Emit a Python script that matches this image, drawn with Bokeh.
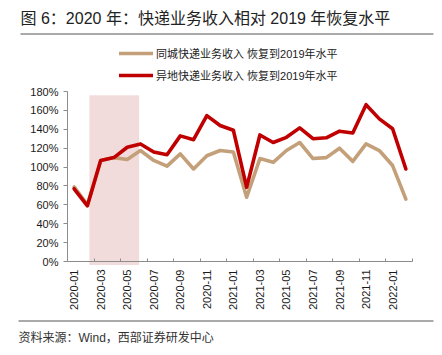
from bokeh.plotting import figure
from bokeh.models import (Legend, LegendItem, FixedTicker, PrintfTickFormatter, Range1d)
from bokeh.core.properties import value
from bokeh.embed import file_html
from bokeh.resources import INLINE
import math

months = ["2020-01", "2020-02", "2020-03", "2020-04", "2020-05", "2020-06",
          "2020-07", "2020-08", "2020-09", "2020-10", "2020-11", "2020-12",
          "2021-01", "2021-02", "2021-03", "2021-04", "2021-05", "2021-06",
          "2021-07", "2021-08", "2021-09", "2021-10", "2021-11", "2021-12",
          "2022-01", "2022-02"]
tongcheng = [79, 60, 107, 110, 108, 117.5, 107, 101, 114, 98, 112, 117.5, 116,
             68, 109, 105, 117.5, 126, 109, 110, 120, 106, 124.5, 117.5, 101.6, 66]
yidi = [77, 59, 107, 110, 121, 124.5, 116, 113, 133, 129, 154.5, 144, 139,
        78.5, 134, 126, 131.5, 141.5, 130, 131, 138, 136, 166, 151, 140.5, 98]
y_ticks = [0, 20, 40, 60, 80, 100, 120, 140, 160, 180]
shade_x0, shade_x1, shade_top = 1.15, 4.9, 176

series_names = ["同城快递业务收入 恢复到2019年水平", "异地快递业务收入 恢复到2019年水平"]
title_text = "图 6：2020 年：快递业务收入相对 2019 年恢复水平"
source_text = "资料来源：Wind，西部证券研发中心"

FONT = "Liberation Sans, Noto Sans CJK SC"
W, H = 442, 355
# plot-area geometry in page pixels
AX_L, AX_R = 67, 412        # x axis spans category -0.5 .. n-0.5
AX_B, AX_T = 261, 91        # y axis spans 0 .. 180
YMAX = 180
n = len(months)
ppc = (AX_R - AX_L) / n                 # pixels per category
ppu = (AX_B - AX_T) / YMAX              # pixels per percent unit


def dx(px):
    return -0.5 + (px - AX_L) / ppc


def dy(py):
    return (AX_B - py) / ppu


p = figure(width=W, height=H, output_backend="svg", toolbar_location=None, title=None,
           x_range=Range1d(dx(0), dx(W)), y_range=Range1d(dy(H), dy(0)),
           min_border=0, min_border_left=0, min_border_right=0,
           min_border_top=0, min_border_bottom=0)
p.outline_line_color = None
p.xgrid.visible = False
p.ygrid.visible = False
p.background_fill_color = "white"
p.border_fill_color = "white"

# shaded period
p.quad(left=[shade_x0], right=[shade_x1], bottom=[dy(AX_B + 3.5)], top=[shade_top],
       fill_color="#F2DCDB", line_color=None)

xs = list(range(n))
r1 = p.line(xs, tongcheng, line_color="#C4A07A", line_width=3.6, line_join="round", line_cap="round")
r2 = p.line(xs, yidi, line_color="#C00000", line_width=3.6, line_join="round", line_cap="round")

axis_color = "#8C8C8C"
xa = p.xaxis[0]
xa.fixed_location = 0
xa.bounds = (-0.5, n - 0.5)
xa.ticker = FixedTicker(ticks=list(range(0, n, 2)),
                        minor_ticks=[i + 1.5 for i in range(-2, n, 2)])
xa.major_label_overrides = {i: months[i] for i in range(0, n, 2)}
xa.major_label_orientation = math.pi / 2
xa.major_tick_line_color = None
xa.major_tick_out = 0
xa.major_tick_in = 0
xa.minor_tick_in = 3
xa.minor_tick_out = 0
xa.minor_tick_line_color = axis_color
xa.axis_line_color = axis_color
xa.major_label_standoff = 8
xa.major_label_text_font = FONT
xa.major_label_text_font_size = "11px"
xa.major_label_text_color = "#1a1a1a"

ya = p.yaxis[0]
ya.fixed_location = -0.5
ya.bounds = (0, YMAX)
ya.ticker = FixedTicker(ticks=y_ticks)
ya.formatter = PrintfTickFormatter(format="%d%%")
ya.minor_tick_line_color = None
ya.major_tick_out = 4
ya.major_tick_in = 0
ya.major_tick_line_color = axis_color
ya.axis_line_color = axis_color
ya.major_label_standoff = 5
ya.major_label_text_font = FONT
ya.major_label_text_font_size = "11px"
ya.major_label_text_color = "#1a1a1a"

# legend (location: bottom-left corner, screen px from the frame's bottom-left)
legend = Legend(items=[LegendItem(label=series_names[0], renderers=[r1]),
                       LegendItem(label=series_names[1], renderers=[r2])],
                location=(119, H - 83), orientation="vertical",
                glyph_width=34, glyph_height=14, label_height=14, label_standoff=3,
                spacing=6, padding=0, margin=0,
                border_line_color=None, background_fill_alpha=0,
                label_text_font=FONT, label_text_font_size="11px",
                label_text_color="#222222")
p.add_layout(legend, "center")

# title, rules, source
rule_color = "#555555"
p.text(x=[dx(20)], y=[dy(17.5)], text=[title_text], text_font=value(FONT),
       text_font_size="16px", text_color="#222222", text_baseline="middle")
p.segment(x0=[dx(20)], x1=[dx(433)], y0=[dy(33.5)], y1=[dy(33.5)],
          line_color=rule_color, line_width=1)
p.segment(x0=[dx(18)], x1=[dx(433)], y0=[dy(320.5)], y1=[dy(320.5)],
          line_color=rule_color, line_width=1)
p.text(x=[dx(18)], y=[dy(337)], text=[source_text], text_font=value(FONT),
       text_font_size="12px", text_color="#333333", text_baseline="middle")

open("out.html", "w").write(file_html(p, INLINE))
